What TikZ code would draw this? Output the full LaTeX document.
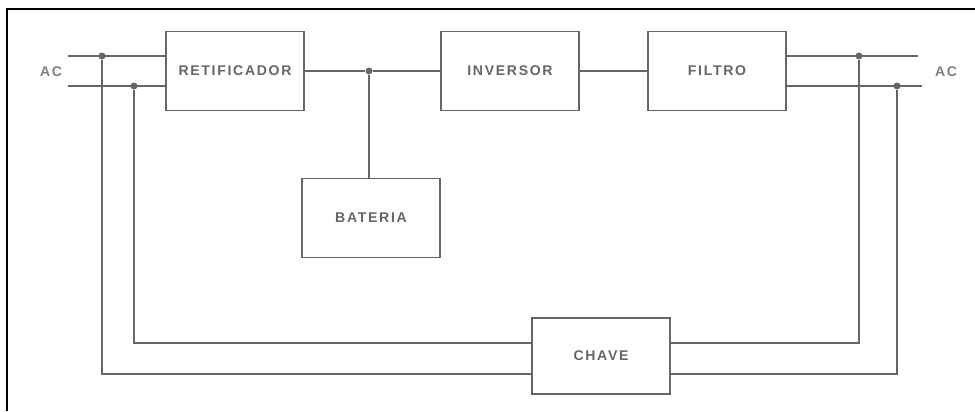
\documentclass[tikz,border=0pt]{standalone}
\usepackage{fontspec}
\newfontfamily\blocofont{Liberation Sans}[LetterSpace=12]
\usetikzlibrary{positioning}

\begin{document}
\begin{tikzpicture}[
bloco/.style={draw=black!60,line width=.85pt,minimum width=2.76cm,minimum height=1.58cm,outer sep=0pt,font=\blocofont\bfseries\fontsize{8}{9}\selectfont,text=black!60},
fio/.style={draw=black!60,line width=.85pt},
ponto/.style={circle,fill=black!60,inner sep=0pt,minimum size=.14cm},
rotulo/.style={font=\blocofont\bfseries\fontsize{8}{9}\selectfont,text=black!50}]
\useasboundingbox (0,0) rectangle (19.5,-8.22);
% moldura
\draw[black,line width=1.2pt] (0.14,-8.22)--(0.14,-0.18)--(19.5,-0.18);
% blocos
\node[bloco] at (4.7,-1.42) (ret){RETIFICADOR};
\node[bloco,right=2.74cm of ret](inv){INVERSOR};
\node[bloco,right=1.38cm of inv](fil){FILTRO};
\node[bloco] at (7.42,-4.36) (bat){BATERIA};
\node[bloco,minimum height=1.52cm] at (12.02,-7.12) (chv){CHAVE};
\node[rotulo](acl) at (1.02,-1.44){AC};
\node[rotulo](acr) at (18.92,-1.44){AC};
% pontos e extremidades
\coordinate (ea) at (1.36,-1.12); \coordinate (eb) at (1.36,-1.72);
\coordinate (sa) at (18.36,-1.12); \coordinate (sb) at (18.44,-1.72);
\coordinate (lo) at (0,-7.48); \coordinate (li) at (0,-6.86);
\node[ponto](pa) at (2.04,-1.12){}; \node[ponto](pb) at (2.68,-1.72){};
\node[ponto](qa) at (17.18,-1.12){}; \node[ponto](qb) at (17.94,-1.72){};
\node[ponto](jb) at (7.38,-1.42){};
% ligacoes
\draw[fio](ea)--(ea-|ret.west); \draw[fio](eb)--(eb-|ret.west);
\draw[fio](ret)--(jb)--(inv); \draw[fio](inv)--(fil);
\draw[fio](jb)--(jb|-bat.north);
\draw[fio](fil.east|-sa)--(sa); \draw[fio](fil.east|-sb)--(sb);
\draw[fio](pa)|-(chv.west|-lo); \draw[fio](chv.east|-lo)-|(qb);
\draw[fio](pb)|-(chv.west|-li); \draw[fio](chv.east|-li)-|(qa);
\end{tikzpicture}
\end{document}
